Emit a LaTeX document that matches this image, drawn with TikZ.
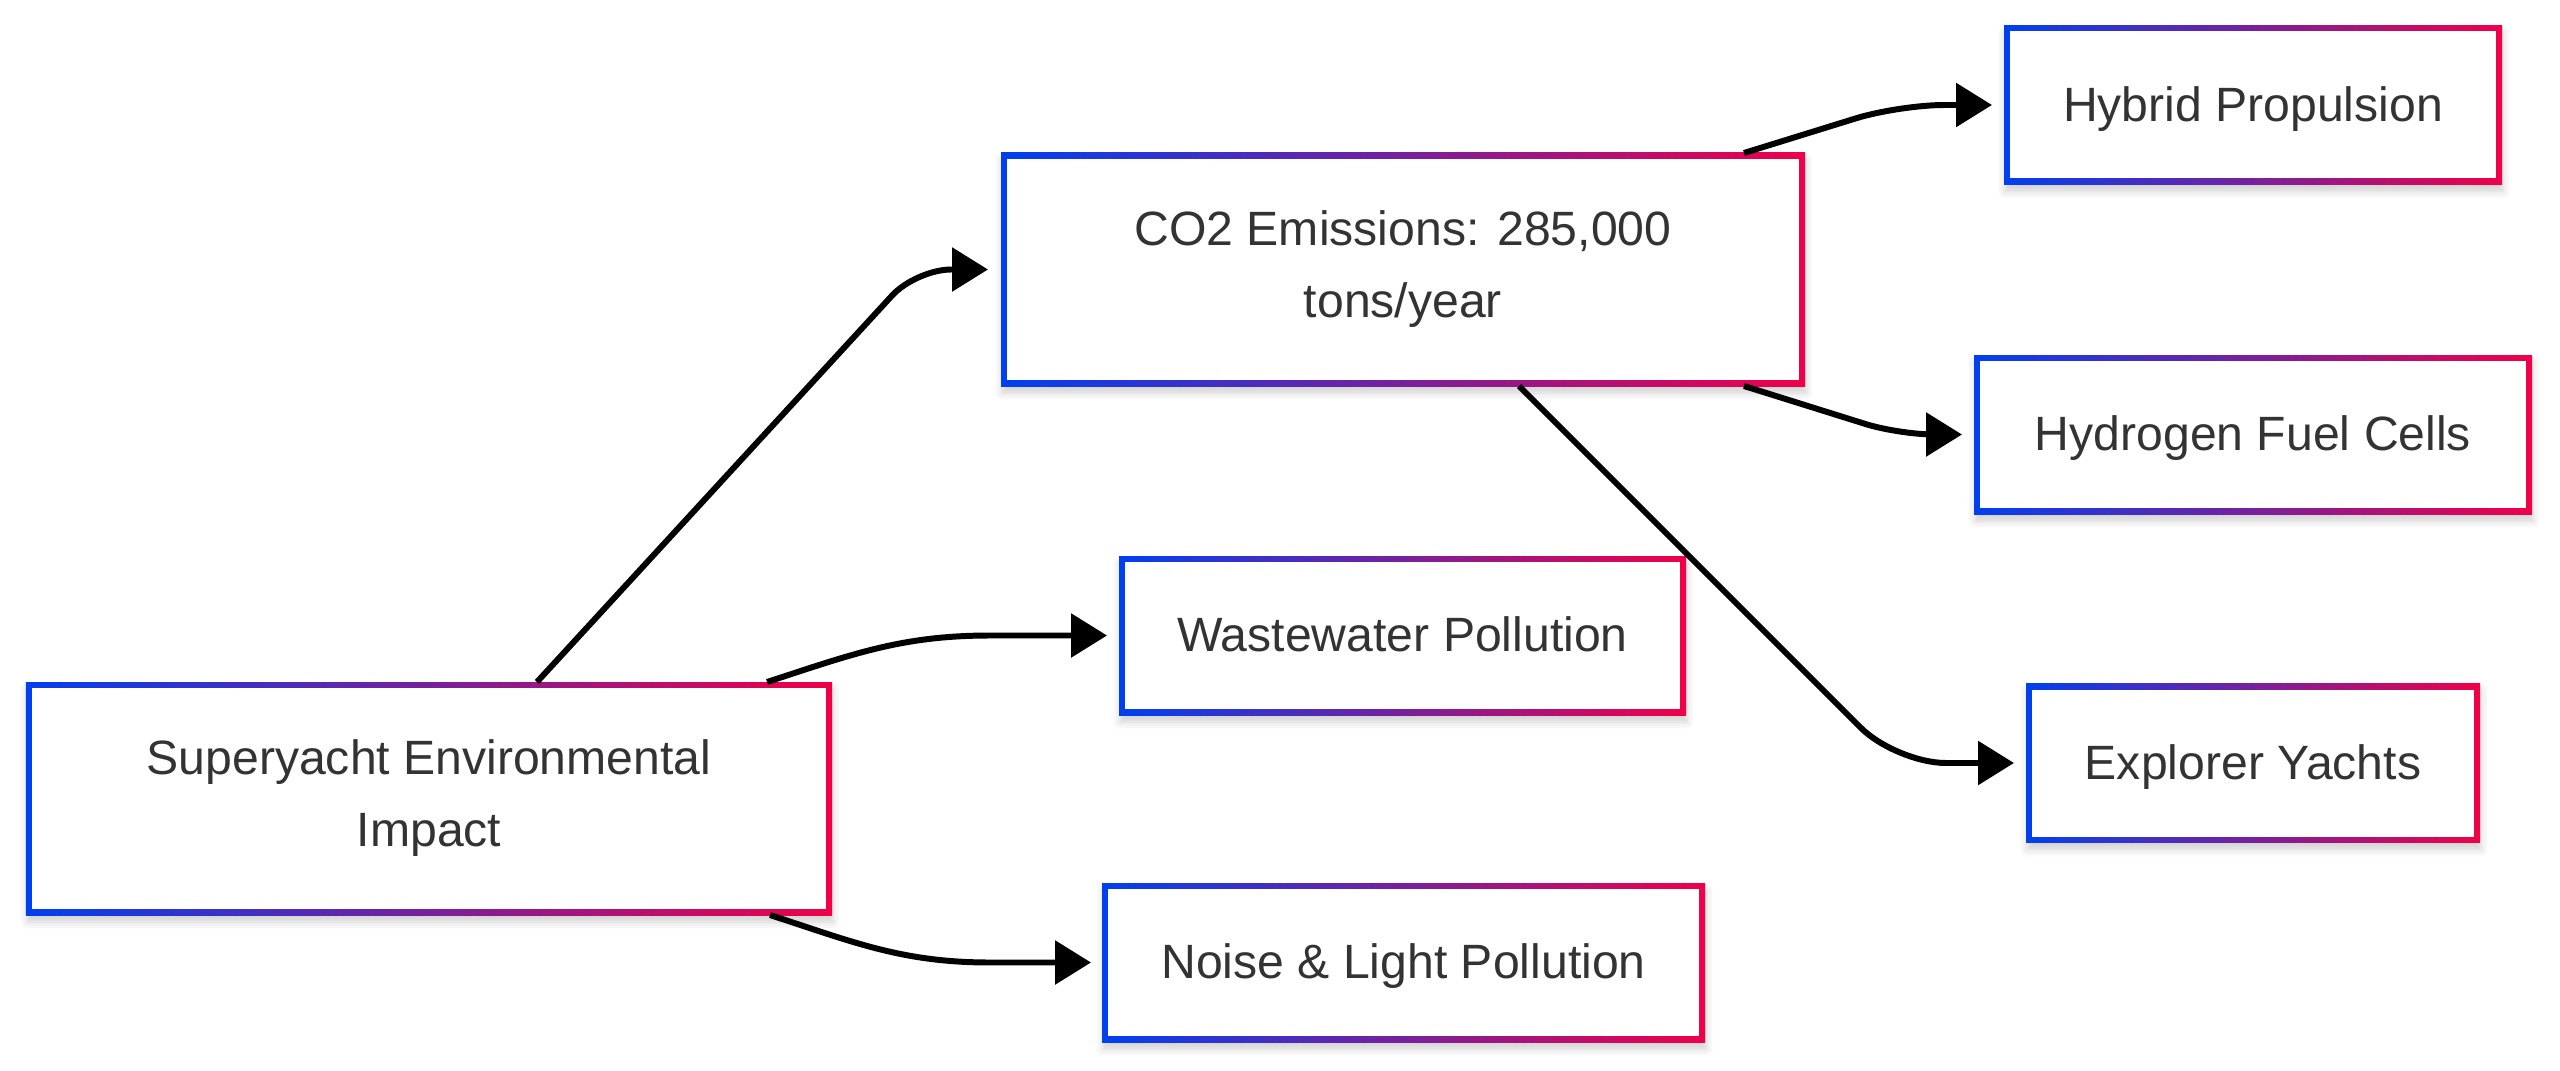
\documentclass[tikz,border=0pt]{standalone}
\usepackage{fontspec}
\setmainfont{Liberation Sans}
\usetikzlibrary{arrows.meta,shadows.blur}

\definecolor{edgeblue}{RGB}{0,64,240}
\definecolor{edgered}{RGB}{240,0,72}
\definecolor{labelgray}{RGB}{51,51,51}

\tikzset{
  impact/.style={fill=white, minimum height=2.33cm, inner sep=0pt, outer sep=0pt,
    align=center, text=labelgray, font=\fontsize{13.7}{20.5}\selectfont,
    execute at begin node={\rule[-3pt]{0pt}{15.3pt}},
    blur shadow={shadow blur steps=6, shadow xshift=0.3pt, shadow yshift=-2pt, shadow opacity=18},
    path picture={
      \shade[left color=edgeblue, right color=edgered]
        (path picture bounding box.south west) rectangle (path picture bounding box.north east);
      \fill[white] ([shift={(0.06,0.06)}]path picture bounding box.south west)
        rectangle ([shift={(-0.06,-0.06)}]path picture bounding box.north east);
    }},
  leaf/.style={impact, minimum height=1.59cm},
  flow/.style={line width=1.7pt, -{Triangle[length=0.36cm,width=0.43cm]}}
}

\begin{document}
\begin{tikzpicture}

    \useasboundingbox (0,0) rectangle (25.6,-10.71);

    % boites
    \node[impact, minimum width=8.06cm] (super) at (4.29,-7.985) {Superyacht Environmental\\Impact};
    \node[impact, minimum width=8.04cm] (co2) at (14.03,-2.695) {CO2 Emissions: 285,000\\tons/year};
    \node[leaf, minimum width=5.67cm] (waste) at (14.025,-6.355) {Wastewater Pollution};
    \node[leaf, minimum width=6.03cm] (noise) at (14.035,-9.625) {Noise \& Light Pollution};
    \node[leaf, minimum width=4.98cm] (hybrid) at (22.53,-1.05) {Hybrid Propulsion};
    \node[leaf, minimum width=5.58cm] (hydrogen) at (22.53,-4.345) {Hydrogen Fuel Cells};
    \node[leaf, minimum width=4.54cm] (explorer) at (22.53,-7.63) {Explorer Yachts};

    % fleches depuis l'impact
    \draw[flow, rounded corners=0.35cm] ([xshift=1.08cm]super.north) -- ([xshift=-0.85cm]co2.west) -- ([xshift=-0.13cm]co2.west);
    \draw[flow] ([xshift=3.38cm]super.north) to[out=18,in=180] ([xshift=-1.29cm]waste.west) -- ([xshift=-0.12cm]waste.west);
    \draw[flow] ([xshift=3.41cm]super.south) to[out=-18,in=180] ([xshift=-1.12cm]noise.west) -- ([xshift=-0.11cm]noise.west);

    % fleches depuis CO2
    \draw[flow, rounded corners=0.45cm] ([xshift=3.41cm]co2.north) -- ([xshift=-1.05cm]hybrid.west) -- ([xshift=-0.12cm]hybrid.west);
    \draw[flow, rounded corners=0.35cm] ([xshift=3.41cm]co2.south) -- ([xshift=-0.75cm]hydrogen.west) -- ([xshift=-0.12cm]hydrogen.west);
    \draw[flow, rounded corners=0.5cm] ([xshift=1.16cm]co2.south) -- ([xshift=-1.30cm]explorer.west) -- ([xshift=-0.12cm]explorer.west);

\end{tikzpicture}
\end{document}
